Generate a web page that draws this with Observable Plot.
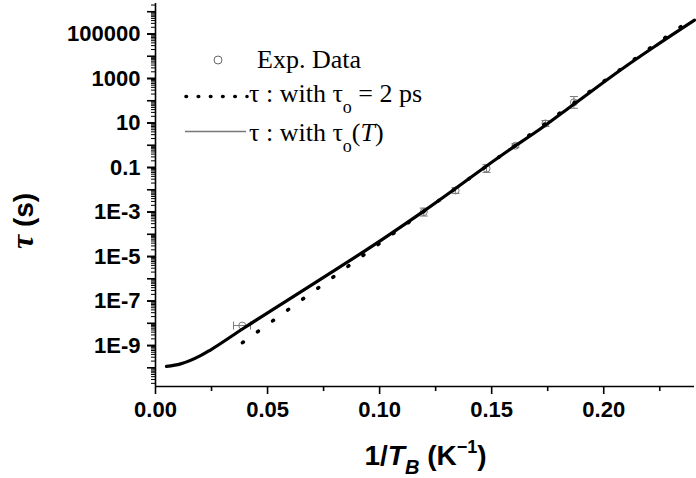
<!DOCTYPE html>
<html><head><meta charset="utf-8">
<script src="https://cdn.jsdelivr.net/npm/d3@7"></script>
<script src="https://cdn.jsdelivr.net/npm/@observablehq/plot@0.6"></script>
<style>body{margin:0;background:#fff} svg{display:block}</style>
</head><body><div id="chart"></div>
<script>
// ---- data ----
const expX     = [0.0387, 0.1197, 0.1339, 0.1477, 0.1606, 0.1740, 0.1867];
const expTau   = [7.9e-9, 1.0e-3, 9.3e-3, 0.09, 0.95, 9.5, 85];
const expTauLo = [null, 6.6e-4, 6.9e-3, 0.06, 0.78, 7, 46];
const expTauHi = [null, 1.5e-3, 1.25e-2, 0.135, 1.17, 13, 155];
const expXLo   = [0.0348, null, null, null, null, null, null];
const expXHi   = [0.0424, null, null, null, null, null, null];

const fixedX   = [0.0388, 0.06, 0.08, 0.10, 0.12, 0.14, 0.16, 0.18, 0.20, 0.22, 0.2405];
const fixedTau = [1.35e-9, 4.7e-8, 1.35e-6, 3.9e-5, 1.12e-3, 3.2e-2, 0.91, 26, 740, 2.1e4, 5.6e5];

const varX     = [0.0049, 0.0112, 0.0201, 0.0245, 0.0393, 0.0727, 0.1004, 0.1197, 0.1575, 0.1718, 0.1867, 0.2083, 0.2224, 0.2405];
const varTau   = [1.15e-10, 1.5e-10, 3.5e-10, 6.3e-10, 6.0e-9, 8.3e-7, 5.2e-5, 1.1e-3, 0.58, 5.5, 70, 2750, 2.6e4, 4.2e5];

const xMajorTicks = [0, 0.05, 0.10, 0.15, 0.20];
const xMinorTicks = [0.025, 0.075, 0.125, 0.175, 0.225];
const yLabelTicks = [1e-9, 1e-7, 1e-5, 1e-3, 0.1, 10, 1000, 100000];
const yTickLabels = ["1E-9", "1E-7", "1E-5", "1E-3", "0.1", "10", "1000", "100000"];
const yDecades    = [-10, -9, -8, -7, -6, -5, -4, -3, -2, -1, 0, 1, 2, 3, 4, 5, 6];

// ---- derived tables ----
const yMin = Math.pow(10, -10.84), yMax = Math.pow(10, 6.37);
const yMajor = yDecades.map(k => Math.pow(10, k));
const yMinor = [];
for (let k = -11; k <= 6; k++) for (let m = 2; m <= 9; m++) {
  const v = m * Math.pow(10, k);
  if (v > yMin && v < yMax) yMinor.push(v);
}
const labelMap = new Map(yLabelTicks.map((v, i) => [v, yTickLabels[i]]));
const exp = expX.map((x, i) => ({x, tau: expTau[i], lo: expTauLo[i], hi: expTauHi[i], xlo: expXLo[i], xhi: expXHi[i]}));
const vErr = exp.filter(d => d.lo != null);
const hErr = exp.filter(d => d.xlo != null);
const fixedLine = fixedX.map((x, i) => ({x, tau: fixedTau[i]}));
const varLine = varX.map((x, i) => ({x, tau: varTau[i]}));

const capH = {draw(ctx, size) { const r = Math.sqrt(size / Math.PI); ctx.moveTo(-r, 0); ctx.lineTo(r, 0); }};
const capV = {draw(ctx, size) { const r = Math.sqrt(size / Math.PI); ctx.moveTo(0, -r); ctx.lineTo(0, r); }};
const errColor = "#7a7a7a";

const chart = Plot.plot({
  width: 696, height: 478,
  marginLeft: 155, marginRight: 2, marginTop: 3, marginBottom: 92,
  style: {fontFamily: "'Liberation Sans', Arial, sans-serif", fontSize: "22px", fontWeight: "bold", background: "#fff", color: "#000"},
  x: {domain: [0, 0.2405]},
  y: {type: "log", domain: [yMin, yMax]},
  marks: [
    // axes
    Plot.axisX(xMajorTicks, {tickSize: 8, tickPadding: 7, strokeWidth: 1.6, tickFormat: d3.format(".2f"), label: null}),
    Plot.axisX(xMinorTicks, {tickSize: 5, strokeWidth: 1.6, tickFormat: () => "", label: null}),
    Plot.axisY(yLabelTicks, {tickSize: 8, tickPadding: 7, strokeWidth: 1.6, tickFormat: d => labelMap.get(d), label: null}),
    Plot.axisY(yMajor, {tickSize: 8, strokeWidth: 1.6, tickFormat: () => "", label: null}),
    Plot.axisY(yMinor, {tickSize: 4, strokeWidth: 1, tickFormat: () => "", label: null}),
    Plot.ruleX([0], {strokeWidth: 1.6}),
    Plot.ruleY([yMin], {strokeWidth: 1.6}),
    // experimental data with error bars
    Plot.ruleX(vErr, {x: "x", y1: "lo", y2: "hi", stroke: errColor, strokeWidth: 1}),
    Plot.dot(vErr, {x: "x", y: "lo", symbol: capH, r: 4, stroke: errColor, strokeWidth: 1}),
    Plot.dot(vErr, {x: "x", y: "hi", symbol: capH, r: 4, stroke: errColor, strokeWidth: 1}),
    Plot.ruleY(hErr, {y: "tau", x1: "xlo", x2: "xhi", stroke: errColor, strokeWidth: 1}),
    Plot.dot(hErr, {x: "xlo", y: "tau", symbol: capV, r: 4, stroke: errColor, strokeWidth: 1}),
    Plot.dot(hErr, {x: "xhi", y: "tau", symbol: capV, r: 4, stroke: errColor, strokeWidth: 1}),
    Plot.dot(exp, {x: "x", y: "tau", r: 3.5, stroke: errColor, fill: "none", strokeWidth: 1}),
    // model curves
    Plot.line(fixedLine, {x: "x", y: "tau", stroke: "#000", strokeWidth: 3.6, strokeDasharray: "1,17.6", strokeLinecap: "round"}),
    Plot.line(varLine, {x: "x", y: "tau", stroke: "#000", strokeWidth: 3.2, curve: "monotone-x"})
  ]
});
document.getElementById("chart").appendChild(chart);

// ---- titles and legend (rich text) ----
const svg = d3.select(chart);
const sans = "'Liberation Sans', Arial, sans-serif";
const serif = "'Liberation Serif', 'Times New Roman', serif";

const xt = svg.append("text").attr("x", 425.5).attr("y", 465).attr("text-anchor", "middle")
  .attr("font-family", sans).attr("font-size", 28).attr("font-weight", "bold").attr("fill", "#000");
xt.append("tspan").text("1/");
xt.append("tspan").attr("font-style", "italic").text("T");
xt.append("tspan").attr("font-style", "italic").attr("font-size", 20).attr("dy", 9).text("B");
xt.append("tspan").attr("dy", -9).text(" (K");
xt.append("tspan").attr("font-size", 18).attr("dy", -12).text("\u22121");
xt.append("tspan").attr("dy", 12).text(")");

const yt = svg.append("text").attr("transform", "translate(33,221) rotate(-90)").attr("text-anchor", "middle")
  .attr("font-family", sans).attr("font-size", 28).attr("font-weight", "bold").attr("fill", "#000");
yt.append("tspan").attr("font-family", serif).attr("font-style", "italic").attr("font-size", 32).text("\u03c4");
yt.append("tspan").text(" (s)");

const lg = svg.append("g").attr("font-family", serif).attr("font-size", 26).attr("font-weight", "normal")
  .attr("fill", "#000").attr("text-anchor", "start");
lg.append("circle").attr("cx", 218).attr("cy", 60).attr("r", 4).attr("fill", "none").attr("stroke", "#666").attr("stroke-width", 1);
lg.append("text").attr("x", 257).attr("y", 68).text("Exp. Data");
lg.append("line").attr("x1", 186).attr("x2", 247).attr("y1", 96.5).attr("y2", 96.5)
  .attr("stroke", "#000").attr("stroke-width", 3.6).attr("stroke-dasharray", "0.5,11.7").attr("stroke-linecap", "round");
const t2 = lg.append("text").attr("x", 249).attr("y", 102);
t2.append("tspan").text("\u03c4 : with \u03c4");
t2.append("tspan").attr("font-size", 18).attr("dy", 11).text("o");
t2.append("tspan").attr("dy", -11).text(" = 2 ps");
lg.append("line").attr("x1", 185).attr("x2", 246).attr("y1", 131.5).attr("y2", 131.5)
  .attr("stroke", "#777").attr("stroke-width", 1.5);
const t3 = lg.append("text").attr("x", 249).attr("y", 141);
t3.append("tspan").text("\u03c4 : with \u03c4");
t3.append("tspan").attr("font-size", 18).attr("dy", 11).text("o");
t3.append("tspan").attr("dy", -11).text("(");
t3.append("tspan").attr("font-style", "italic").text("T");
t3.append("tspan").text(")");
</script>
</body></html>
